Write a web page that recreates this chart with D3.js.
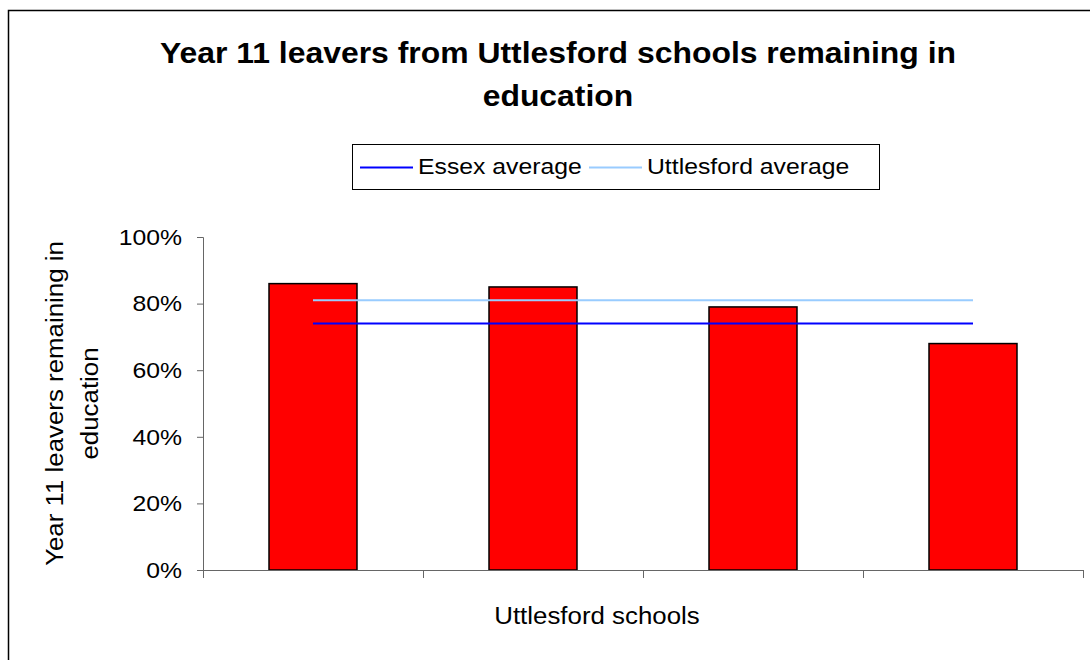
<!DOCTYPE html>
<html>
<head>
<meta charset="utf-8">
<script src="https://cdn.jsdelivr.net/npm/d3@7"></script>
<style>
body { margin: 0; background: #fff; }
svg { display: block; font-family: 'Liberation Sans', Arial, sans-serif; }
</style>
</head>
<body>
<svg width="1090" height="660"></svg>
<script>
// data
const schools = ['School A', 'School B', 'School C', 'School D']
const remaining = [0.86, 0.85, 0.79, 0.68]
const essexAverage = 0.74
const uttlesfordAverage = 0.81
const yTicks = [0, 0.2, 0.4, 0.6, 0.8, 1]

const svg = d3.select('svg')
const margin = { left: 203, right: 1083, top: 237, bottom: 570 }
const STRETCH = 1.1 // the original text is a little wider than Arial

// chart frame (runs off the right / bottom of the picture)
svg.append('rect')
	.attr('x', 8.5).attr('y', 10.5)
	.attr('width', 1100).attr('height', 700)
	.attr('fill', '#fff').attr('stroke', '#000').attr('stroke-width', 1.5)

const x = d3.scaleBand()
	.domain(schools)
	.range([margin.left, margin.right])
	.paddingInner(0.6)
	.paddingOuter(0.3)

const y = d3.scaleLinear()
	.domain([0, 1])
	.range([margin.bottom, margin.top])

// title
const title = svg.append('text')
	.attr('text-anchor', 'middle')
	.attr('font-weight', 'bold')
	.attr('font-size', 29)
title.append('tspan').attr('x', 558).attr('y', 63).text('Year 11 leavers from Uttlesford schools remaining in')
title.append('tspan').attr('x', 558).attr('y', 106).text('education')

// bars
svg.append('g').selectAll('rect')
	.data(remaining)
	.join('rect')
	.attr('x', (d, i) => x(schools[i]))
	.attr('width', x.bandwidth())
	.attr('y', d => y(d))
	.attr('height', d => y(0) - y(d))
	.attr('fill', '#ff0000')
	.attr('stroke', '#000')
	.attr('stroke-width', 1.5)

// average lines, from first to last category centre
const averages = [
	{ name: 'Essex average', value: essexAverage, colour: '#0000ff' },
	{ name: 'Uttlesford average', value: uttlesfordAverage, colour: '#99ccff' }
]
const xc = s => x(s) + x.bandwidth() / 2
svg.append('g').selectAll('line')
	.data(averages)
	.join('line')
	.attr('x1', xc(schools[0]))
	.attr('x2', xc(schools[schools.length - 1]))
	.attr('y1', d => y(d.value))
	.attr('y2', d => y(d.value))
	.attr('stroke', d => d.colour)
	.attr('stroke-width', 2)

// y axis
const yAxis = svg.append('g')
	.attr('transform', `translate(${margin.left},0)`)
	.call(d3.axisLeft(y).tickValues(yTicks).tickFormat(d3.format('.0%')).tickSizeOuter(0).tickSize(6).tickPadding(15))
yAxis.selectAll('text').attr('font-size', 22.5).attr('fill', '#000').attr('font-family', 'Liberation Sans, Arial, sans-serif')
yAxis.selectAll('line, path').attr('stroke', '#666')

// x axis: ticks between the categories
const xTickPos = d3.range(schools.length + 1).map(i => margin.left + i * x.step())
svg.append('line')
	.attr('x1', margin.left).attr('x2', margin.right)
	.attr('y1', y(0) + 0.5).attr('y2', y(0) + 0.5)
	.attr('stroke', '#666')
svg.append('g').selectAll('line')
	.data(xTickPos)
	.join('line')
	.attr('x1', d => Math.round(d) + 0.5).attr('x2', d => Math.round(d) + 0.5)
	.attr('y1', y(0)).attr('y2', y(0) + 8)
	.attr('stroke', '#666')

// axis titles
svg.append('text')
	.attr('text-anchor', 'middle')
	.attr('font-size', 23.5)
	.attr('x', 597).attr('y', 624)
	.text('Uttlesford schools')

const yTitle = svg.append('text')
	.attr('text-anchor', 'middle')
	.attr('font-size', 23.5)
	.attr('transform', `translate(63,${(margin.top + margin.bottom) / 2}) rotate(-90)`)
yTitle.append('tspan').attr('x', 0).attr('y', 0).text('Year 11 leavers remaining in')
yTitle.append('tspan').attr('x', 0).attr('y', 35).text('education')

// legend
const legend = svg.append('g')
legend.append('rect')
	.attr('x', 352.5).attr('y', 144.5)
	.attr('width', 527).attr('height', 45)
	.attr('fill', '#fff').attr('stroke', '#000').attr('stroke-width', 1)
const legendX = [360, 589]
const items = legend.selectAll('g.item')
	.data(averages)
	.join('g')
	.attr('class', 'item')
	.attr('transform', (d, i) => `translate(${legendX[i]},167.5)`)
items.append('line')
	.attr('x1', 0).attr('x2', 53)
	.attr('stroke', d => d.colour)
	.attr('stroke-width', 2)
items.append('text')
	.attr('x', 58).attr('y', 6)
	.attr('font-size', 22.5)
	.text(d => d.name)

// widen every text run a bit
svg.selectAll('text').each(function () {
	const t = d3.select(this)
	const runs = t.selectAll('tspan').empty() ? t : t.selectAll('tspan')
	runs.each(function () {
		const len = this.getComputedTextLength()
		d3.select(this).attr('textLength', len * STRETCH).attr('lengthAdjust', 'spacingAndGlyphs')
	})
})
</script>
</body>
</html>
